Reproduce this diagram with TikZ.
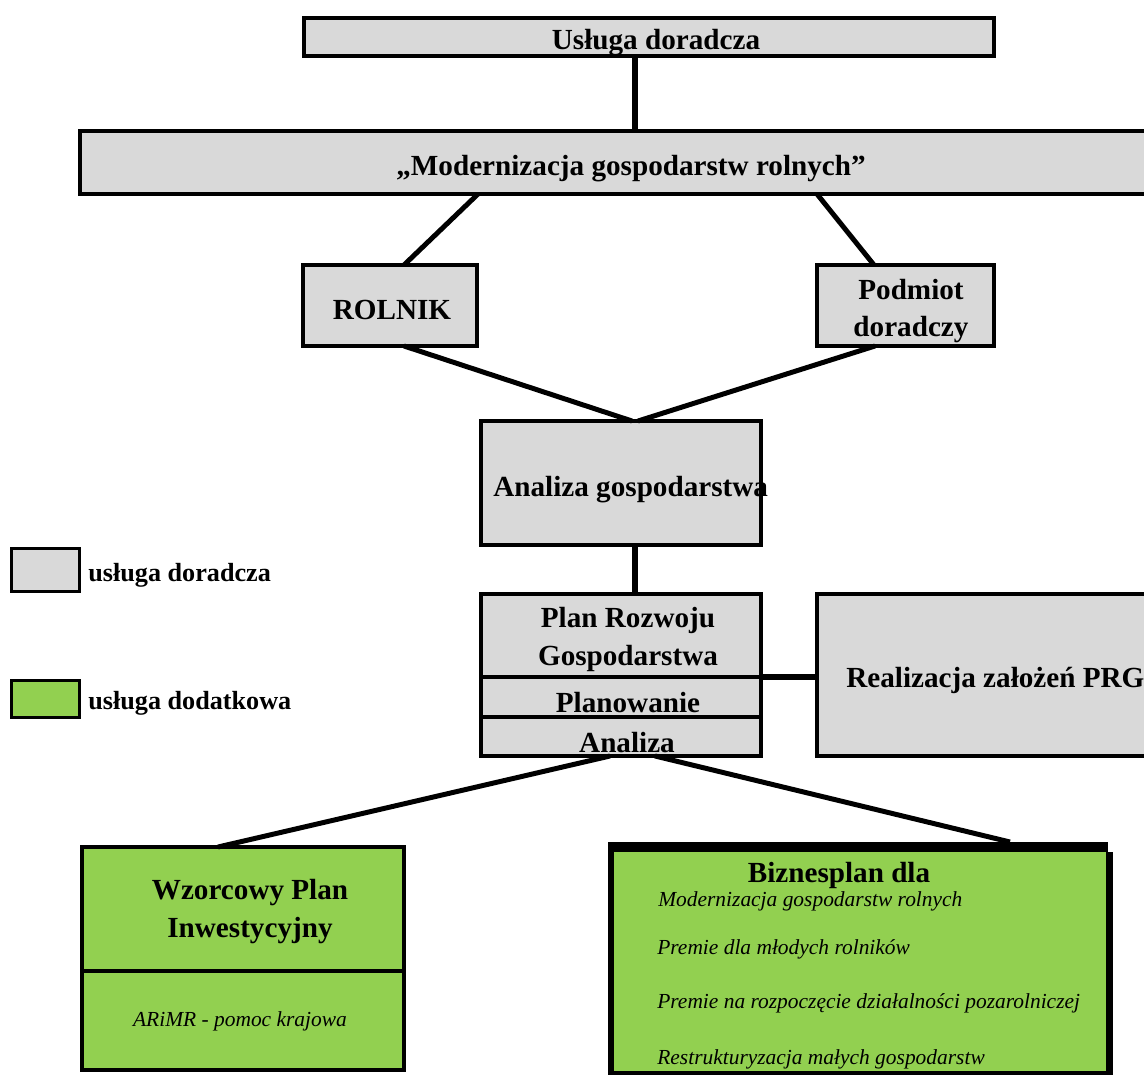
\documentclass[tikz,border=0pt]{standalone}
\usepackage{fontspec}
\setmainfont{Liberation Serif}
\definecolor{boxgray}{HTML}{D9D9D9}
\definecolor{boxgreen}{HTML}{92D050}
\begin{document}
\begin{tikzpicture}[x=0.02cm,y=-0.02cm,
  box/.style={draw=black, line width=2.27pt, inner sep=0pt, outer sep=0pt},
  gbox/.style={box, fill=boxgray},
  grbox/.style={box, fill=boxgreen},
  sz/.style 2 args={minimum width=#1*0.02cm, minimum height=#2*0.02cm},
  main/.style={font=\fontsize{16.6}{21.5}\selectfont\bfseries, inner sep=0pt, align=center},
  leg/.style={font=\fontsize{14.9}{18}\selectfont\bfseries, inner sep=0pt},
  ital/.style={font=\fontsize{12.2}{14}\selectfont\itshape, inner sep=0pt},
  conn/.style={line width=2.83pt},
  thickconn/.style={line width=3.8pt},
]
\useasboundingbox (0,0) rectangle (1144,1075);
\clip (0,0) rectangle (1144,1075);

% boxes
\node[gbox, sz={690}{38}] (A) at (649,37) {};
\node[gbox, sz={1090}{63}] (B) at (625,162.5) {};
\node[gbox, sz={174}{81}] (R) at (390,305.5) {};
\node[gbox, sz={177}{81}] (P) at (905.5,305.5) {};
\node[gbox, sz={280}{124}] (G) at (621,483) {};
\node[gbox, sz={280}{83}] (S1) at (621,635.5) {};
\node[gbox, sz={280}{40}] (S2) at (621,697) {};
\node[gbox, sz={280}{39}] (S3) at (621,736.5) {};
\node[gbox, sz={343}{162}] (RZ) at (988.5,675) {};
\node[grbox, sz={322}{124}] (W1) at (243,909) {};
\node[grbox, sz={322}{99}] (W2) at (243,1020.5) {};
\node[fill=black, inner sep=0pt, outer sep=0pt, sz={500}{234}] (Bz) at (858,959) {};
\fill[boxgreen] (614,852) rectangle (1106,1071);
\fill[black] (1106,852) rectangle (1113,1076);

% legend
\node[box, line width=1.7pt, fill=boxgray, sz={68}{43}] (L1) at (45.5,570) {};
\node[box, line width=1.7pt, fill=boxgreen, sz={68}{37}] (L2) at (45.5,699) {};

% connectors
\draw[line width=3.4pt] (A.south -| 635,0) -- (B.north -| 635,0);
\draw[conn] (B.south -| 478,0) -- (R.north -| 404,0);
\draw[conn] (B.south -| 817,0) -- (P.north -| 874,0);
\draw[conn] (R.south -| 404,0) -- (G.north -| 632,0);
\draw[conn] (P.south -| 875,0) -- (G.north -| 638,0);
\draw[thickconn] (G.south -| 635,0) -- (S1.north -| 635,0);
\draw[thickconn] (S1.south east) -- (S1.south east -| RZ.west);
\draw[conn] (S3.south -| 610,0) -- (W1.north -| 218,0);
\draw[conn] (S3.south -| 655,0) -- (Bz.north -| 1010,0);

% texts
\node[main] (tA) at (656,42.5) {Usługa doradcza};
\node[main] (tB) at (631,168.5) {„Modernizacja gospodarstw rolnych”};
\node[main] (tR) at (392,309.5) {ROLNIK};
\node[main] (tP) at (911,311) {Podmiot\\doradczy};
\node[main, anchor=west] (tG) at (493,489.5) {Analiza gospodarstwa};
\node[main] (tS1) at (628,639.5) {Plan Rozwoju\\Gospodarstwa};
\node[main] (tS2) at (628,703) {Planowanie};
\node[main] (tS3) at (627,743) {Analiza};
\node[main, anchor=west] (tRZ) at (846,680) {Realizacja założeń PRG};
\node[main] (tW1) at (250,911.5) {Wzorcowy Plan\\Inwestycyjny};
\node[ital] (tW2) at (240,1021) {ARiMR - pomoc krajowa};
\node[main] (tBz) at (839,875.5) {Biznesplan dla};
\node[ital, anchor=west] (tb1) at (658,901) {Modernizacja gospodarstw rolnych};
\node[ital, anchor=west] (tb2) at (657,949) {Premie dla młodych rolników};
\node[ital, anchor=west] (tb3) at (657,1003) {Premie na rozpoczęcie działalności pozarolniczej};
\node[ital, anchor=west] (tb4) at (657,1059) {Restrukturyzacja małych gospodarstw};
\node[leg, anchor=west] (tL1) at (88,575) {usługa doradcza};
\node[leg, anchor=west] (tL2) at (88,703) {usługa dodatkowa};
\end{tikzpicture}
\end{document}
